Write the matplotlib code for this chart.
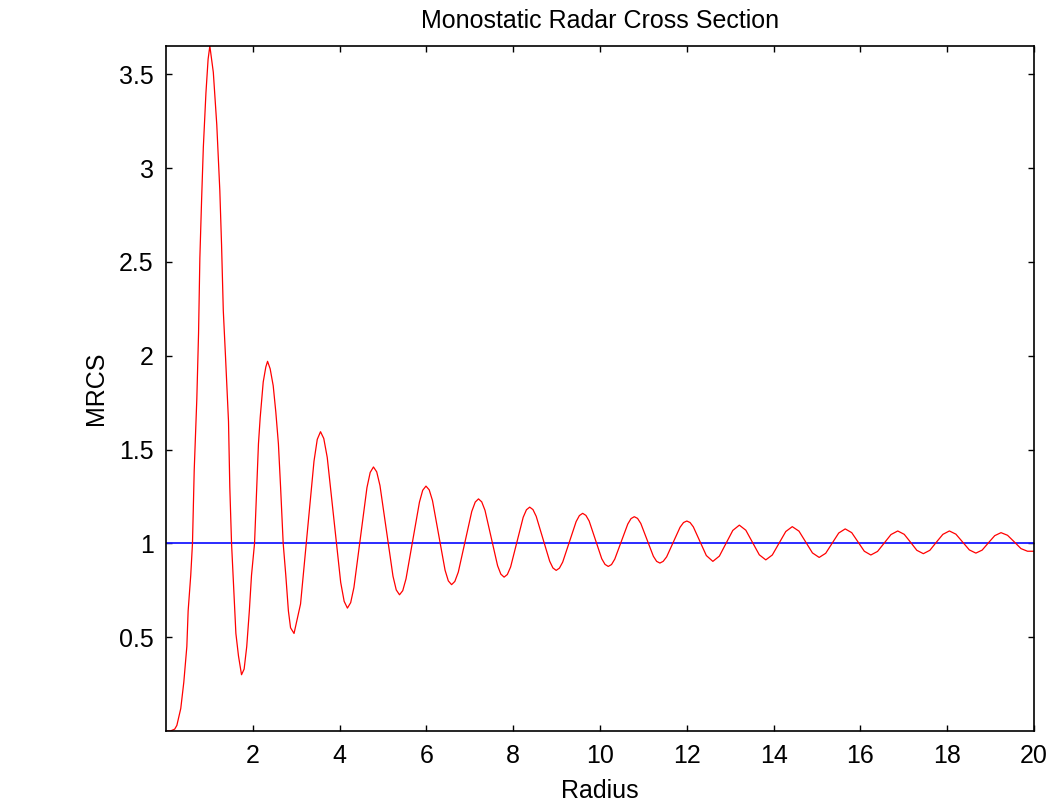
import numpy as np
import matplotlib
matplotlib.use("Agg")
import matplotlib.pyplot as plt

plt.rcParams['font.family'] = ['Liberation Sans', 'DejaVu Sans']

# radius values (peaks, troughs and points in between)
radius = [
    0.0, 0.10, 0.20, 0.25, 0.34, 0.41, 0.48, 0.51, 0.57, 0.61, 0.65, 0.71,
    0.75, 0.78, 0.82, 0.86, 0.92, 0.97, 1.01,
    1.09, 1.17, 1.24, 1.28, 1.32, 1.37, 1.44, 1.47, 1.51, 1.57, 1.61, 1.67, 1.74,
    1.80, 1.86, 1.92, 1.97, 2.04, 2.09, 2.13, 2.17, 2.24, 2.30, 2.34,
    2.40, 2.47, 2.53, 2.59, 2.64, 2.70, 2.76, 2.82, 2.87, 2.95,
    3.10, 3.255, 3.41, 3.485, 3.56, 3.635,
    3.715, 3.87, 4.025, 4.105, 4.18, 4.255,
    4.33, 4.48, 4.63, 4.705, 4.78, 4.855,
    4.93, 5.08, 5.23, 5.305, 5.38, 5.455,
    5.53, 5.685, 5.84, 5.915, 5.99, 6.065,
    6.14, 6.285, 6.43, 6.505, 6.58, 6.655,
    6.735, 6.89, 7.045, 7.125, 7.20, 7.275,
    7.35, 7.495, 7.64, 7.715, 7.79, 7.865,
    7.94, 8.085, 8.23, 8.305, 8.38, 8.455,
    8.53, 8.685, 8.84, 8.915, 8.99, 9.065,
    9.14, 9.295, 9.45, 9.525, 9.60, 9.675,
    9.75, 9.895, 10.04, 10.115, 10.19, 10.265,
    10.34, 10.49, 10.64, 10.715, 10.79, 10.865,
    10.94, 11.085, 11.23, 11.305, 11.38, 11.455,
    11.535, 11.69, 11.845, 11.925, 12.00, 12.075,
    12.15, 12.30, 12.45, 12.60,
    12.75, 12.905, 13.06, 13.21,
    13.36, 13.515, 13.67, 13.82,
    13.97, 14.125, 14.28, 14.43,
    14.585, 14.74, 14.895, 15.05,
    15.20, 15.35, 15.50, 15.65,
    15.80, 15.945, 16.09, 16.24,
    16.395, 16.55, 16.705, 16.86,
    17.01, 17.155, 17.30, 17.45,
    17.60, 17.75, 17.90, 18.05,
    18.20, 18.355, 18.51, 18.66,
    18.805, 18.95, 19.095, 19.24,
    19.39, 19.545, 19.70, 19.85,
    20.0,
]

mrcs = [
    0.0, 0.0, 0.01, 0.03, 0.12, 0.26, 0.45, 0.64, 0.83, 1.0, 1.39, 1.77,
    2.12, 2.52, 2.83, 3.11, 3.40, 3.58, 3.65,
    3.51, 3.23, 2.88, 2.59, 2.24, 2.00, 1.65, 1.30, 1.0, 0.71, 0.52, 0.40, 0.30,
    0.33, 0.45, 0.64, 0.83, 1.0, 1.30, 1.53, 1.67, 1.86, 1.94, 1.97,
    1.93, 1.84, 1.70, 1.53, 1.30, 1.0, 0.83, 0.64, 0.55, 0.52,
    0.677, 1.058, 1.438, 1.554, 1.595, 1.559,
    1.458, 1.125, 0.792, 0.691, 0.655, 0.684,
    0.765, 1.031, 1.297, 1.378, 1.407, 1.381,
    1.308, 1.067, 0.825, 0.752, 0.726, 0.748,
    0.811, 1.016, 1.220, 1.283, 1.305, 1.285,
    1.228, 1.043, 0.857, 0.800, 0.780, 0.797,
    0.847, 1.009, 1.170, 1.220, 1.237, 1.221,
    1.176, 1.029, 0.881, 0.836, 0.820, 0.834,
    0.874, 1.007, 1.139, 1.179, 1.193, 1.180,
    1.144, 1.025, 0.905, 0.869, 0.856, 0.868,
    0.900, 1.008, 1.116, 1.148, 1.160, 1.149,
    1.119, 1.019, 0.918, 0.888, 0.877, 0.887,
    0.916, 1.010, 1.103, 1.132, 1.142, 1.133,
    1.106, 1.019, 0.931, 0.904, 0.895, 0.904,
    0.928, 1.007, 1.086, 1.111, 1.119, 1.111,
    1.088, 1.012, 0.935, 0.904,
    0.932, 1.001, 1.069, 1.097,
    1.070, 1.005, 0.939, 0.912,
    0.938, 1.001, 1.063, 1.089,
    1.065, 1.007, 0.949, 0.925,
    0.947, 1.001, 1.055, 1.077,
    1.057, 1.008, 0.958, 0.938,
    0.957, 1.002, 1.047, 1.066,
    1.048, 1.006, 0.963, 0.945,
    0.963, 1.006, 1.048, 1.066,
    1.049, 1.007, 0.965, 0.948,
    0.964, 1.003, 1.041, 1.057,
    1.043, 1.008, 0.972, 0.958,
    0.958,
]

ref_x = [0.0, 20.0]
ref_y = [1.0, 1.0]

x_ticks = [2, 4, 6, 8, 10, 12, 14, 16, 18, 20]
y_ticks = [0.5, 1, 1.5, 2, 2.5, 3, 3.5]

fig = plt.figure(figsize=(10.52, 8.02), dpi=100)
ax = fig.add_axes([0.1578, 0.0885, 0.8251, 0.8541])

ax.plot(ref_x, ref_y, color='#1a1aff', lw=1.3)
ax.plot(radius, mrcs, color='#ff0000', lw=0.9)

ax.set_xlim(0, 20)
ax.set_ylim(0, max(mrcs))
ax.set_xticks(x_ticks)
ax.set_yticks(y_ticks)
ax.set_yticklabels(['0.5', '1', '1.5', '2', '2.5', '3', '3.5'])

ax.tick_params(direction='in', top=True, right=True, length=4, width=1,
               labelsize=18, pad=9)
for s in ax.spines.values():
    s.set_linewidth(1.2)

ax.set_title('Monostatic Radar Cross Section', fontsize=18, pad=13)
ax.set_xlabel('Radius', fontsize=18, labelpad=8)
ax.set_ylabel('MRCS', fontsize=18, labelpad=8)

fig.savefig('out.png', dpi=100)
